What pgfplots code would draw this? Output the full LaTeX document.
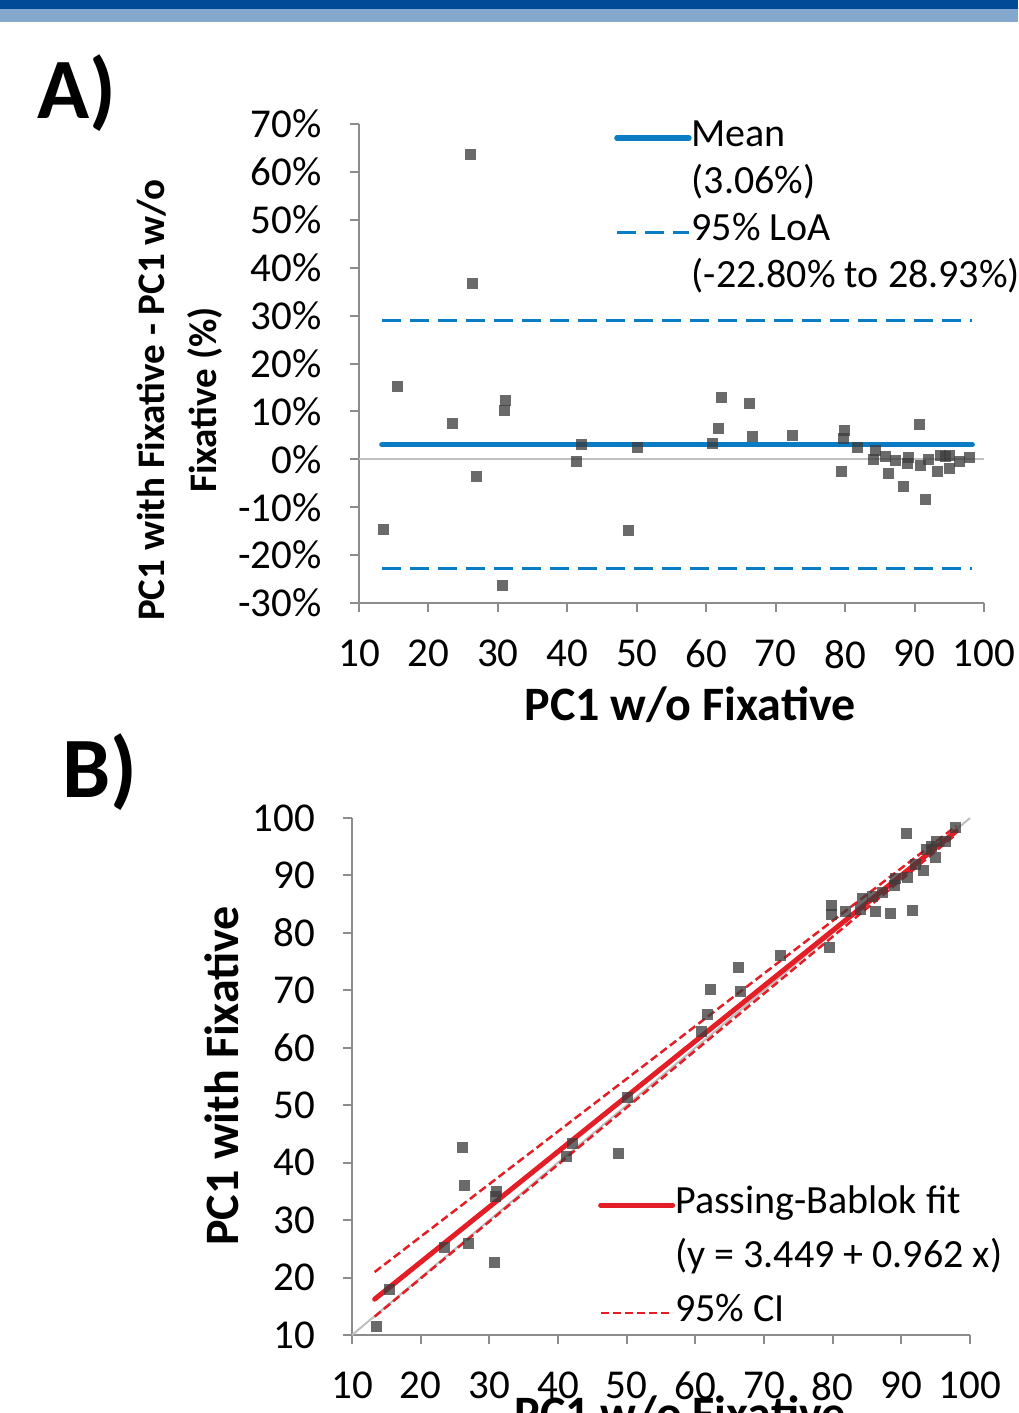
\documentclass[border=0pt]{standalone}
\usepackage{fontspec}
\setmainfont{Carlito}
\usepackage{pgfplots}
\pgfplotsset{compat=1.18}
\definecolor{bardark}{HTML}{004A98}
\definecolor{barlight}{HTML}{85A8CE}
\definecolor{meanblue}{HTML}{0A7CC4}
\definecolor{fitred}{HTML}{E41E26}
\definecolor{axgray}{HTML}{8C8C8C}
\definecolor{zgray}{HTML}{BFBFBF}
\definecolor{mkgray}{HTML}{3B3B3B}

\pgfplotsset{
  panel/.style={
    scale only axis, anchor=south west, clip=false,
    axis x line*=bottom, axis y line*=left,
    axis line style={draw=axgray, line width=2pt},
    major tick style={draw=axgray, line width=2pt},
    major tick length=9pt, tick align=outside,
    xmin=10, xmax=100, xtick={10,20,...,100},
    tick label style={font=\fontsize{41}{46}\selectfont},
    /pgf/number format/assume math mode=true,
    xticklabel style={anchor=north, inner sep=0pt, yshift=-28pt},
    yticklabel style={anchor=east, inner sep=0pt, xshift=-28pt},
    legend cell align=left,
    legend image code/.code={\draw[##1] (0pt,0pt) -- (72pt,0pt);},
    legend style={draw=none, fill=none, inner sep=0pt, anchor=north west,
      font=\fontsize{40}{46}\selectfont,
      /tikz/every even column/.append style={column sep=7pt}},
  },
  pts/.style={only marks, mark=square*, mark size=5.5pt, color=mkgray,
    mark options={draw opacity=0, fill=mkgray, fill opacity=0.76}, forget plot},
}

% x: PC1 w/o fixative, d: difference in %
\pgfplotstableread{
x d
13.5 -14.6
15.5 15.2
23.4 7.5
26.1 63.7
26.4 36.7
26.9 -3.5
30.7 -26.3
30.9 10.2
31.1 12.3
41.3 -0.4
42.1 3.1
48.8 -14.8
50.1 2.5
60.9 3.3
61.7 6.5
62.2 12.9
66.3 11.7
66.6 4.8
72.4 5.0
79.5 -2.6
79.8 4.3
79.9 6.1
81.8 2.4
84.1 0.0
84.4 1.9
85.8 0.6
86.3 -3.0
87.3 -0.3
88.4 -5.7
89.0 -0.9
89.1 0.4
90.7 7.2
90.9 -1.3
91.6 -8.4
92.0 -0.1
93.3 -2.6
93.7 0.8
94.4 0.6
95.1 0.8
95.0 -1.9
96.4 -0.5
97.9 0.4
}\diffdata

% x: PC1 w/o fixative, y: PC1 with fixative
\pgfplotstableread{
x y
13.5 11.53
15.5 17.86
23.4 25.16
26.1 42.73
26.4 36.09
26.9 25.96
30.7 22.63
30.9 34.05
31.1 34.93
41.3 41.13
42.1 43.41
48.8 41.58
50.1 51.35
60.9 62.91
61.7 65.71
62.2 70.22
66.3 74.06
66.6 69.80
72.4 76.02
79.5 77.43
79.8 83.23
79.9 84.77
81.8 83.76
84.1 84.10
84.4 86.00
85.8 86.31
86.3 83.71
87.3 87.04
88.4 83.36
89.0 88.20
89.1 89.46
90.7 97.23
90.9 89.72
91.6 83.91
92.0 91.91
93.3 90.87
93.7 94.45
94.4 94.97
95.1 95.86
95.0 93.20
96.4 95.92
97.9 98.29
}\pairdata

\begin{document}
\begin{tikzpicture}
\fill[bardark] (0pt,0pt) rectangle (1018pt,-9pt);
\fill[barlight] (0pt,-9pt) rectangle (1018pt,-22pt);
\node[anchor=base west, inner sep=0pt, font=\bfseries\fontsize{86}{90}\selectfont] at (37pt,-118pt) {A)};
\node[anchor=base west, inner sep=0pt, font=\bfseries\fontsize{86}{90}\selectfont] at (62pt,-797pt) {B)};

% ---- A) Bland-Altman ----
\begin{axis}[panel,
  at={(359pt,-603pt)}, width=625pt, height=479pt,
  ymin=-30, ymax=70, ytick={-30,-20,...,70},
  yticklabel={\pgfmathprintnumber{\tick}\%},
  xlabel={PC1 w/o Fixative},
  xlabel style={at={(axis description cs:0.5296,-0.2443)}, anchor=base, inner sep=0pt,
    font=\bfseries\fontsize{48}{54}\selectfont},
  ylabel={PC1 with Fixative - PC1 w/o\\Fixative (\%)},
  ylabel style={at={(axis description cs:-0.2864,0.4238)}, anchor=center, align=center,
    font=\bfseries\fontsize{39}{52}\selectfont},
  legend style={at={(axis description cs:0.408,1.02)},
    nodes={inner xsep=0pt, inner ysep=6.5pt, text height=25pt, text depth=9pt}},
]
\addplot[zgray, line width=2pt, forget plot] coordinates {(10,0) (100,0)};
\addplot[meanblue, line width=5.5pt, line cap=round] coordinates {(13.3,3.06) (98.3,3.06)};
\addlegendentry{Mean}
\addlegendimage{empty legend}
\addlegendentry{(3.06\%)}
\addplot[meanblue, line width=3pt, dash pattern=on 19pt off 9pt] coordinates {(13.3,28.93) (98.3,28.93)};
\addlegendentry{95\% LoA}
\addplot[meanblue, line width=3pt, dash pattern=on 19pt off 9pt, forget plot] coordinates {(13.3,-22.80) (98.3,-22.80)};
\addlegendimage{empty legend}
\addlegendentry{(-22.80\% to 28.93\%)}
\addplot[pts] table[x=x, y=d] {\diffdata};
\end{axis}

% ---- B) Passing-Bablok ----
\begin{axis}[panel,
  at={(352pt,-1335pt)}, width=618pt, height=517pt,
  ymin=10, ymax=100, ytick={10,20,...,100},
  xlabel={PC1 w/o Fixative},
  xlabel style={at={(axis description cs:0.531,-0.1818)}, anchor=base, inner sep=0pt,
    font=\bfseries\fontsize{48}{54}\selectfont},
  ylabel={PC1 with Fixative},
  ylabel style={at={(axis description cs:-0.2104,0.501)}, anchor=center,
    font=\bfseries\fontsize{48}{54}\selectfont},
  legend style={at={(axis description cs:0.398,0.3037)},
    nodes={inner xsep=0pt, inner ysep=10pt, text height=25pt, text depth=9pt}},
]
\addplot[zgray, line width=2pt, forget plot] coordinates {(10,10) (100,100)};
\addplot[fitred, line width=5pt, line cap=round] coordinates {(13.3,16.24) (98.0,97.72)};
\addlegendentry{Passing-Bablok fit}
\addlegendimage{empty legend}
\addlegendentry{(y = 3.449 + 0.962 x)}
\addplot[fitred, line width=2.5pt, dash pattern=on 8pt off 4pt] coordinates {(13.3,20.97) (98.0,98.6)};
\addlegendentry{95\% CI}
\addplot[fitred, line width=2.5pt, dash pattern=on 8pt off 4pt, forget plot] coordinates {(13.3,13.2) (98.0,97.2)};
\addplot[pts] table[x=x, y=y] {\pairdata};
\end{axis}

\pgfresetboundingbox
\useasboundingbox (0pt,0pt) rectangle (1018pt,-1413pt);
\end{tikzpicture}
\end{document}
